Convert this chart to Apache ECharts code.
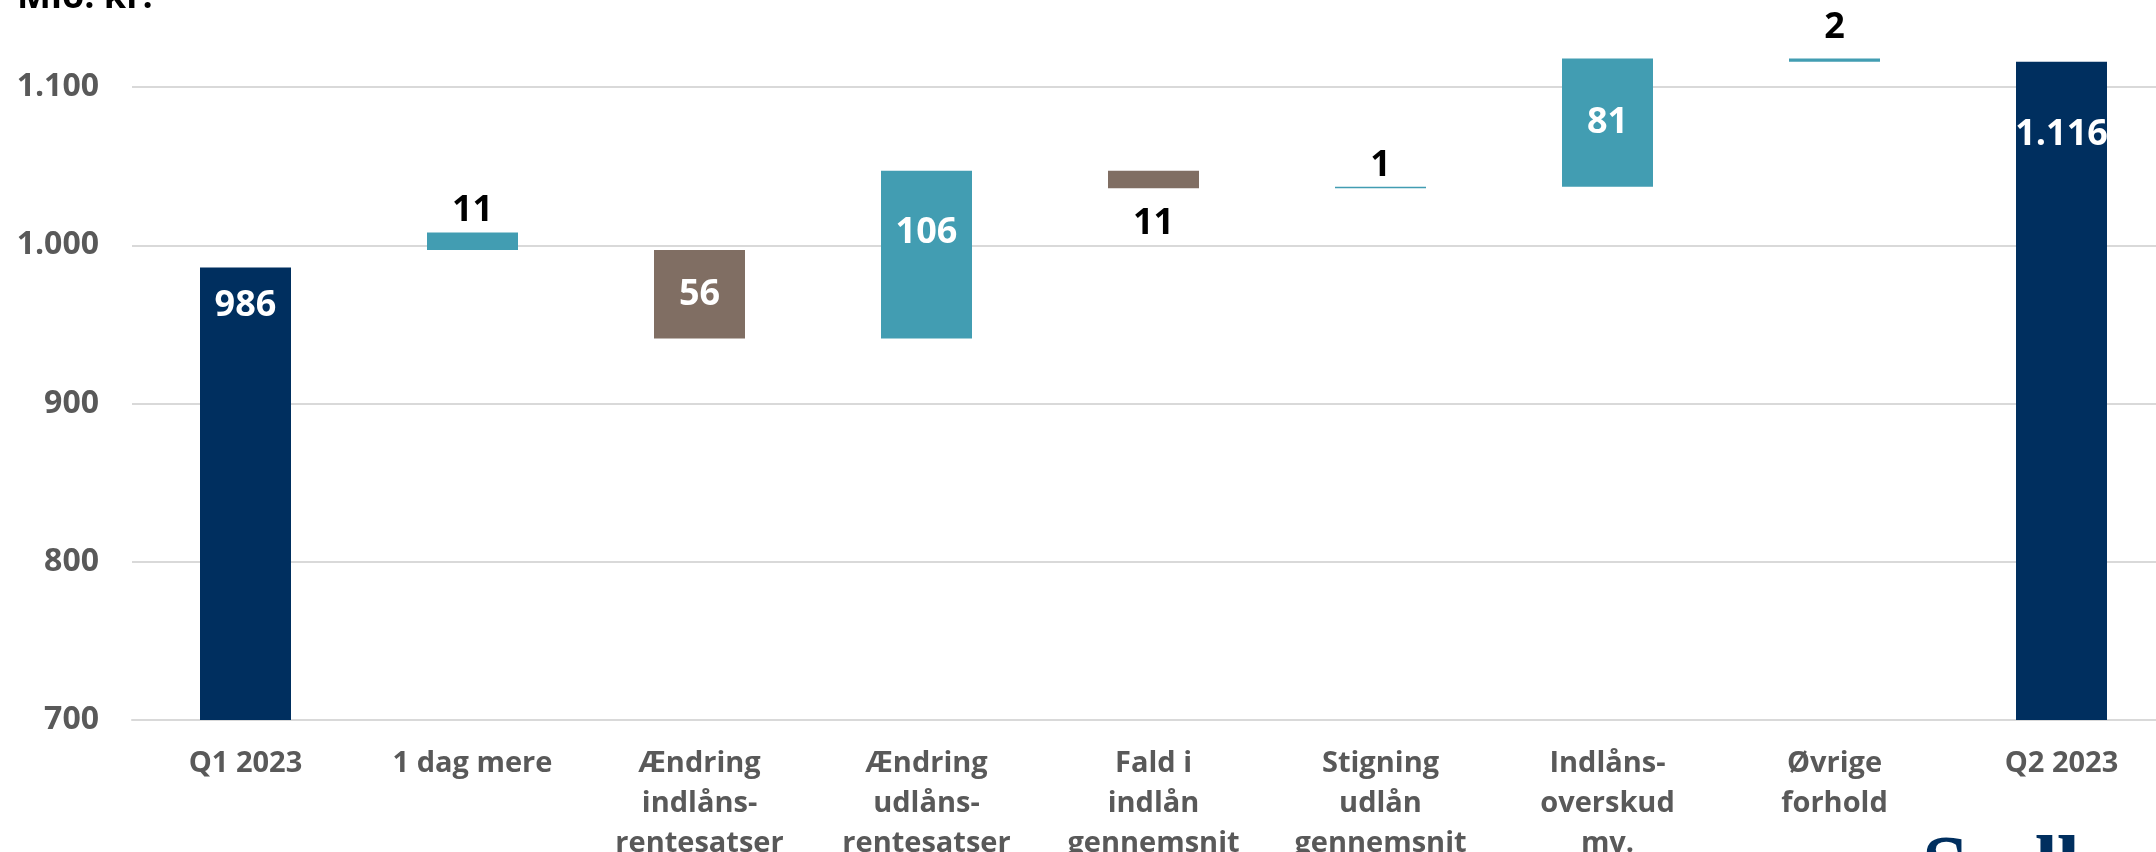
<!DOCTYPE html>
<html>
<head>
<meta charset="utf-8">
<script src="https://cdn.jsdelivr.net/npm/echarts@6/dist/echarts.min.js"></script>
<style>
  html, body { margin: 0; padding: 0; background: #fff; }
  #chart { width: 2156px; height: 852px; }
</style>
</head>
<body>
<div id="chart"></div>
<script>
// categories on the x axis
const categories = [
  'Q1 2023',
  '1 dag mere',
  'Ændring\nindlåns-\nrentesatser',
  'Ændring\nudlåns-\nrentesatser',
  'Fald i\nindlån\ngennemsnit',
  'Stigning\nudlån\ngennemsnit',
  'Indlåns-\noverskud\nmv.',
  'Øvrige\nforhold',
  'Q2 2023'
]

// totals (first and last column)
const startTotal = 986
const endTotal = 1116

// the change steps between them, and the level each step is drawn from
const changes = [11, -56, 106, -11, 1, 81, 2]
const changeFrom = [997, 997, 941, 1047, 1036, 1037, 1116]
// 'up' = teal, 'down' = brown
const changeKind = ['up', 'down', 'up', 'down', 'up', 'up', 'up']

const yTicks = [700, 800, 900, 1000, 1100]

const NAVY = '#002f5f'
const TEAL = '#429db2'
const BROWN = '#806e63'
const FONT = '"Open Sans", "Noto Sans", sans-serif'

const fmt = v => String(Math.abs(v)).replace(/\B(?=(\d{3})+(?!\d))/g, '.')

// label placement per column
const labelPos = [
  { position: 'insideTop', distance: 20, color: '#fff' },
  { position: 'top', distance: 4, color: '#000' },
  { position: 'inside', distance: 0, color: '#fff' },
  { position: 'insideTop', distance: 44, color: '#fff' },
  { position: 'bottom', distance: 17, color: '#000' },
  { position: 'top', distance: 3, color: '#000' },
  { position: 'inside', distance: 0, color: '#fff' },
  { position: 'top', distance: 13, color: '#000' },
  { position: 'insideTop', distance: 55, color: '#fff' }
]

const axisMin = yTicks[0]
const baseData = []
const barData = []

categories.forEach((c, i) => {
  let low, high, color, shown
  if (i === 0 || i === categories.length - 1) {
    const t = i === 0 ? startTotal : endTotal
    low = axisMin
    high = t
    color = NAVY
    shown = t
  } else {
    const d = changes[i - 1]
    const from = changeFrom[i - 1]
    low = Math.min(from, from + d)
    high = Math.max(from, from + d)
    color = changeKind[i - 1] === 'up' ? TEAL : BROWN
    shown = d
  }
  baseData.push(low)
  barData.push({
    value: high - low,
    itemStyle: { color: color },
    label: {
      show: true,
      position: labelPos[i].position,
      distance: labelPos[i].distance,
      color: labelPos[i].color,
      formatter: fmt(shown)
    }
  })
})

const chart = echarts.init(document.getElementById('chart'))

const option = {
  animation: false,
  grid: {
    left: 132,
    top: -71.25,
    width: 2043,
    height: 791.25,
    outerBoundsMode: 'none',
    containLabel: false
  },
  xAxis: {
    type: 'category',
    data: categories,
    axisTick: { show: false },
    axisLine: { show: true, lineStyle: { color: '#d9d9d9', width: 2 } },
    axisLabel: {
      interval: 0,
      margin: 24,
      color: '#595959',
      fontFamily: FONT,
      fontWeight: 'bold',
      fontSize: 29,
      lineHeight: 40
    }
  },
  yAxis: {
    type: 'value',
    min: 700,
    max: 1200,
    interval: 100,
    axisLine: { show: false },
    axisTick: { show: false },
    splitLine: { lineStyle: { color: '#d9d9d9', width: 2 } },
    axisLabel: {
      margin: 33,
      color: '#595959',
      fontFamily: FONT,
      fontWeight: 'bold',
      fontSize: 32,
      formatter: v => (v > 1100 ? '' : fmt(v))
    }
  },
  series: [
    {
      type: 'bar',
      stack: 'w',
      barWidth: 91,
      itemStyle: { color: 'transparent' },
      silent: true,
      data: baseData
    },
    {
      type: 'bar',
      stack: 'w',
      barWidth: 91,
      clip: false,
      label: {
        fontFamily: FONT,
        fontWeight: 'bold',
        fontSize: 36
      },
      data: barData
    }
  ],
  graphic: [
    {
      type: 'text',
      x: 17,
      y: 16,
      style: {
        text: 'Mio. kr.',
        fill: '#000',
        font: 'bold 36px "Open Sans", sans-serif',
        verticalAlign: 'bottom'
      }
    },
    {
      type: 'text',
      x: 1922,
      y: 830,
      style: {
        text: 'Sydbank',
        fill: NAVY,
        font: 'bold 84px "Liberation Serif", serif',
        verticalAlign: 'top'
      }
    }
  ]
}

chart.setOption(option)
</script>
</body>
</html>
